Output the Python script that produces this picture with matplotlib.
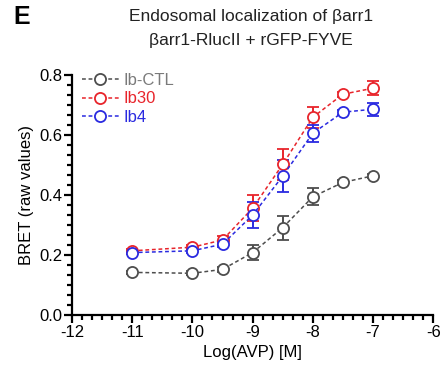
import matplotlib
matplotlib.use("Agg")
import matplotlib.pyplot as plt
from matplotlib.ticker import AutoMinorLocator, MultipleLocator

plt.rcParams['font.family'] = ['Liberation Sans', 'DejaVu Sans']
plt.rcParams['axes.unicode_minus'] = False

# log[AVP] doses and BRET values
log_avp = [-11, -10, -9.5, -9, -8.5, -8, -7.5, -7]

ctl = [0.142, 0.139, 0.152, 0.208, 0.291, 0.394, 0.442, 0.464]
ctl_err = [0.006, 0.006, 0.008, 0.025, 0.040, 0.028, 0.008, 0.006]

ib30 = [0.214, 0.226, 0.250, 0.356, 0.502, 0.659, 0.736, 0.756]
ib30_err = [0.006, 0.008, 0.012, 0.044, 0.053, 0.036, 0.008, 0.024]

ib4 = [0.208, 0.214, 0.236, 0.333, 0.463, 0.606, 0.676, 0.686]
ib4_err = [0.006, 0.006, 0.008, 0.044, 0.054, 0.028, 0.008, 0.022]

names = ["Ib-CTL", "Ib30", "Ib4"]
colors = ["#4d4d4d", "#e8242b", "#2a2ae0"]
text_colors = ["#7a7a7a", "#e8242b", "#2a2ae0"]

fig = plt.figure(figsize=(4.42, 3.77), dpi=100)
ax = fig.add_axes([0.163, 0.1645, 0.817, 0.6365])

series = [(ctl, ctl_err), (ib30, ib30_err), (ib4, ib4_err)]
for (y, e), name, c in zip(series, names, colors):
    ax.errorbar(log_avp, y, yerr=e, color=c, ls=(0, (2.5, 1.8)), lw=1.1,
                marker="o", ms=8, mfc="white", mec=c, mew=1.3,
                ecolor=c, elinewidth=1.4, capsize=4, capthick=1.4,
                label=name, zorder=3)

ax.set_xlim(-12, -6)
ax.set_ylim(0, 0.8)
ax.xaxis.set_major_locator(MultipleLocator(1))
ax.yaxis.set_major_locator(MultipleLocator(0.2))
ax.xaxis.set_minor_locator(AutoMinorLocator(6))
ax.yaxis.set_minor_locator(AutoMinorLocator(6))
ax.set_yticks([0, 0.2, 0.4, 0.6, 0.8])
ax.set_yticklabels(["0.0", "0.2", "0.4", "0.6", "0.8"])
ax.tick_params(which="major", length=6, width=1.6, labelsize=12, pad=1, color="black")
ax.tick_params(which="minor", length=3.5, width=1.6)

for s in ["top", "right"]:
    ax.spines[s].set_visible(False)
for s in ["left", "bottom"]:
    ax.spines[s].set_linewidth(1.6)

ax.set_xlabel("Log(AVP) [M]", fontsize=12, labelpad=4)
ax.set_ylabel("BRET (raw values)", fontsize=12, labelpad=4)

handles, labels = ax.get_legend_handles_labels()
handles = [h[0] for h in handles]
leg = ax.legend(handles, labels, loc="upper left", bbox_to_anchor=(0.0, 1.05),
                frameon=False, fontsize=12, handlelength=2.2, handletextpad=0.3,
                labelspacing=0.2, borderaxespad=0.2)
for t, c in zip(leg.get_texts(), text_colors):
    t.set_color(c)

fig.text(0.03, 0.955, "E", fontsize=18, fontweight="bold", va="center", ha="left")
fig.text(0.567, 0.955, "Endosomal localization of βarr1", fontsize=12.5,
         ha="center", va="center", color="#222222")
fig.text(0.567, 0.893, "βarr1-RlucII + rGFP-FYVE", fontsize=12.5,
         ha="center", va="center", color="#222222")

fig.savefig("out.png", dpi=100)
